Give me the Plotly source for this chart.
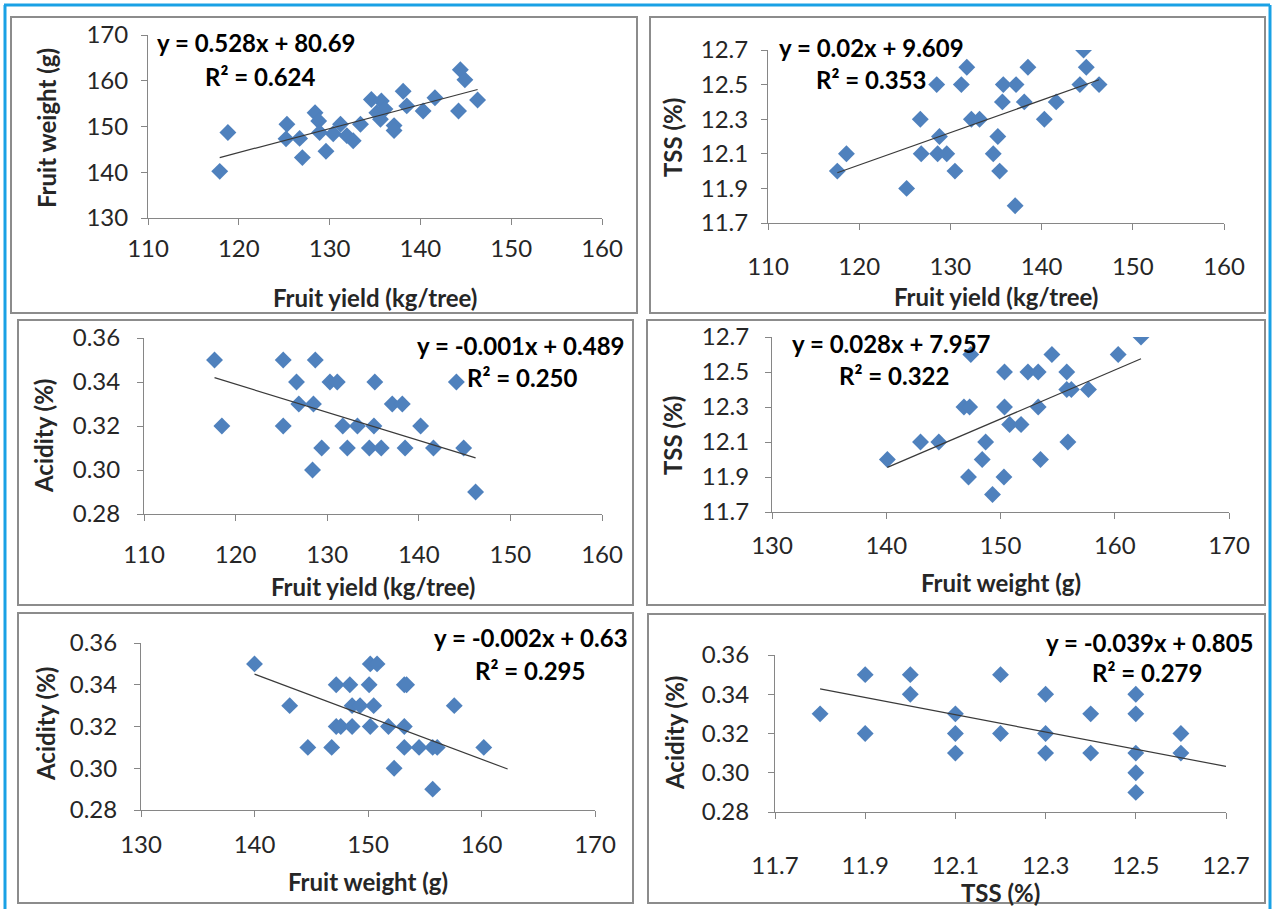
import numpy as np
import plotly.graph_objects as go

# ---------------- data ----------------
p1_yield = [117.9, 118.8, 125.3, 125.2, 126.7, 127.0, 128.4, 128.8, 128.9, 129.6,
            130.4, 131.2, 131.9, 132.6, 133.4, 134.6, 135.7, 135.2, 135.6, 136.1,
            137.1, 137.1, 138.1, 138.5, 140.3, 141.6, 144.2, 144.4, 144.9, 146.3]
p1_weight = [140.2, 148.7, 150.5, 147.3, 147.4, 143.2, 153.0, 151.2, 148.7, 144.6,
             148.4, 150.5, 148.0, 146.9, 150.5, 155.9, 155.6, 153.0, 151.6, 153.8,
             150.2, 149.1, 157.7, 154.5, 153.4, 156.3, 153.4, 162.4, 160.2, 155.8]

p2_yield = [117.6, 118.6, 125.2, 126.7, 126.8, 128.5, 128.8, 128.6, 129.6, 130.5,
            131.2, 131.8, 132.3, 133.2, 134.7, 135.2, 135.4, 135.7, 135.8, 137.2,
            137.1, 138.1, 138.5, 140.3, 141.6, 144.2, 144.6, 144.9, 146.3]
p2_tss = [12.0, 12.1, 11.9, 12.3, 12.1, 12.5, 12.2, 12.1, 12.1, 12.0,
          12.5, 12.6, 12.3, 12.3, 12.1, 12.2, 12.0, 12.4, 12.5, 12.5,
          11.8, 12.4, 12.6, 12.3, 12.4, 12.5, 12.7, 12.6, 12.5]

# the last observation of panels 3, 5 and 6 (the tree with yield 144.6,
# weight 162.3, TSS 12.7) has an acidity below the axis range, so it is not
# drawn, but it still shapes the trendline, as in the reference
p3_yield = [117.7, 118.5, 125.2, 128.7, 126.65, 130.3, 131.1, 135.2, 144.1, 126.9,
            128.5, 137.1, 138.2, 125.2, 131.7, 133.3, 135.1, 140.2, 129.4, 132.2,
            134.6, 135.9, 138.5, 141.6, 144.9, 128.4, 146.2, 144.6]
p3_acidity = [0.35, 0.32, 0.35, 0.35, 0.34, 0.34, 0.34, 0.34, 0.34, 0.33,
              0.33, 0.33, 0.33, 0.32, 0.32, 0.32, 0.32, 0.32, 0.31, 0.31,
              0.31, 0.31, 0.31, 0.31, 0.31, 0.30, 0.29, 0.27]

p4_weight = [140.1, 143.0, 144.6, 147.4, 146.8, 147.3, 148.7, 148.4, 147.2, 149.3,
             150.35, 150.35, 150.3, 150.8, 151.8, 152.4, 153.3, 153.3, 153.5, 154.5,
             155.8, 155.8, 156.2, 155.9, 157.7, 160.3, 162.3]
p4_tss = [12.0, 12.1, 12.1, 12.6, 12.3, 12.3, 12.1, 12.0, 11.9, 11.8,
          12.5, 12.3, 11.9, 12.2, 12.2, 12.5, 12.5, 12.3, 12.0, 12.6,
          12.5, 12.4, 12.4, 12.1, 12.4, 12.6, 12.7]

p5_weight = [140.0, 143.1, 144.7, 146.8, 147.2, 148.4, 150.1, 150.2, 150.8, 148.6,
             149.3, 150.5, 147.2, 147.6, 148.6, 150.2, 151.8, 153.2, 153.2, 153.4,
             153.2, 154.5, 155.7, 156.1, 152.3, 155.7, 157.6, 160.2, 162.3]
p5_acidity = [0.35, 0.33, 0.31, 0.31, 0.34, 0.34, 0.34, 0.35, 0.35, 0.33,
              0.33, 0.33, 0.32, 0.32, 0.32, 0.32, 0.32, 0.32, 0.34, 0.34,
              0.31, 0.31, 0.31, 0.31, 0.30, 0.29, 0.33, 0.31, 0.27]

p6_tss = [11.8, 11.9, 11.9, 12.0, 12.0, 12.1, 12.1, 12.1, 12.2, 12.2, 12.3,
          12.3, 12.3, 12.4, 12.4, 12.5, 12.5, 12.5, 12.5, 12.5, 12.6, 12.6, 12.7]
p6_acidity = [0.33, 0.35, 0.32, 0.35, 0.34, 0.33, 0.32, 0.31, 0.35, 0.32, 0.34,
              0.32, 0.31, 0.33, 0.31, 0.34, 0.33, 0.31, 0.30, 0.29, 0.32, 0.31, 0.27]

equations = ["y = 0.528x + 80.69", "y = 0.02x + 9.609", "y = -0.001x + 0.489",
             "y = 0.028x + 7.957", "y = -0.002x + 0.63", "y = -0.039x + 0.805"]
r_squared = ["R² = 0.624", "R² = 0.353", "R² = 0.250",
             "R² = 0.322", "R² = 0.295", "R² = 0.279"]

x_titles = ["Fruit yield (kg/tree)", "Fruit yield (kg/tree)", "Fruit yield (kg/tree)",
            "Fruit weight (g)", "Fruit weight (g)", "TSS (%)"]
y_titles = ["Fruit weight (g)", "TSS (%)", "Acidity (%)",
            "TSS (%)", "Acidity (%)", "Acidity (%)"]

yield_ticks = [110, 120, 130, 140, 150, 160]
weight_ticks = [130, 140, 150, 160, 170]
tss_ticks = [11.7, 11.9, 12.1, 12.3, 12.5, 12.7]
acid_ticks = [0.28, 0.30, 0.32, 0.34, 0.36]

series = [(p1_yield, p1_weight), (p2_yield, p2_tss), (p3_yield, p3_acidity),
          (p4_weight, p4_tss), (p5_weight, p5_acidity), (p6_tss, p6_acidity)]
x_tick_sets = [yield_ticks, yield_ticks, yield_ticks, weight_ticks, weight_ticks, tss_ticks]
y_tick_sets = [weight_ticks, tss_ticks, acid_ticks, tss_ticks, acid_ticks, acid_ticks]
x_fmt = [".0f", ".0f", ".0f", ".0f", ".0f", ".1f"]
y_fmt = [".0f", ".1f", ".2f", ".1f", ".2f", ".2f"]

# ---------------- layout geometry (pixels) ----------------
W, H = 1273, 909
plot_px = [  # x0, x1, ytop, ybottom of each plot area
    (148, 602, 35, 218),
    (768, 1224, 50, 223),
    (144, 602, 338, 514),
    (772, 1229, 337, 512),
    (141, 595, 643, 810),
    (775, 1226, 655, 812),
]
box_px = [
    (11, 637, 17, 313),
    (650, 1265, 17, 313),
    (18, 633, 320, 605),
    (647, 1265, 320, 605),
    (18, 633, 613, 903),
    (648, 1265, 614, 903),
]
xtick_standoff = [3, 16, 13, 6, 7, 26]
ytick_standoff = [8, 8, 12, 11, 12, 14]
xtitle_y = [297, 296, 586, 582, 881, 892]
ytitle_x = [47, 672, 43, 672, 45, 674]
ytitle_y = [128, 138, 436, 436, 724, 733]
eq_pos = [  # (x, y, anchor) for equation, (x, y, anchor) for R²
    ((155, 43, "left"), (203, 77, "left")),
    ((777, 47, "left"), (814, 80, "left")),
    ((626, 345, "right"), (465, 378, "left")),
    ((790, 343, "left"), (837, 375, "left")),
    ((630, 637, "right"), (473, 670, "left")),
    ((1255, 642, "right"), (1090, 672, "left")),
]

FONT = "Lato"
MARKER = "#4F81BD"
AXIS = "#868686"
TEXT = "#262626"

def px(x):
    return x / W

def py(y):
    return 1 - y / H

fig = go.Figure()
layout = dict(
    template="none", autosize=False,
    width=W, height=H, margin=dict(l=0, r=0, t=0, b=0, pad=0),
    paper_bgcolor="white", plot_bgcolor="white", showlegend=False,
    font=dict(family=FONT, color=TEXT),
)
annotations = []
shapes = []

for i, ((xs, ys), (x0, x1, yt, yb)) in enumerate(zip(series, plot_px)):
    n = i + 1
    xa = "x" if n == 1 else f"x{n}"
    ya = "y" if n == 1 else f"y{n}"
    xt = x_tick_sets[i]
    yt_ = y_tick_sets[i]
    fig.add_trace(go.Scatter(
        x=xs, y=ys, mode="markers", xaxis=xa, yaxis=ya, cliponaxis=True,
        marker=dict(symbol="diamond", size=13, color=MARKER, line=dict(width=0)),
    ))
    # linear least-squares trendline over the range of the observations
    slope, intercept = np.polyfit(xs, ys, 1)
    tx = np.array([min(xs), max(xs)])
    fig.add_trace(go.Scatter(
        x=tx, y=slope * tx + intercept, mode="lines", xaxis=xa, yaxis=ya,
        line=dict(color="#3a3a3a", width=1.2), hoverinfo="skip",
    ))
    common = dict(showgrid=False, zeroline=False, showline=True, linecolor=AXIS,
                  linewidth=1, ticks="outside", tickcolor=AXIS, ticklen=6,
                  automargin=False,
                  tickfont=dict(family=FONT, size=24, color=TEXT))
    layout["xaxis" if n == 1 else f"xaxis{n}"] = dict(
        common, domain=[px(x0), px(x1)], anchor=ya,
        range=[xt[0], xt[-1]], tickvals=xt, tickformat=x_fmt[i],
        ticklabelstandoff=xtick_standoff[i],
    )
    layout["yaxis" if n == 1 else f"yaxis{n}"] = dict(
        common, domain=[py(yb), py(yt)], anchor=xa,
        range=[yt_[0], yt_[-1]], tickvals=yt_, tickformat=y_fmt[i],
        ticklabelstandoff=ytick_standoff[i],
    )
    # axis titles
    annotations.append(dict(
        text=f"<b>{x_titles[i]}</b>", xref="paper", yref="paper",
        x=px((x0 + x1) / 2), y=py(xtitle_y[i]), xanchor="center", yanchor="middle",
        showarrow=False, font=dict(family=FONT, size=24, color=TEXT)))
    annotations.append(dict(
        text=f"<b>{y_titles[i]}</b>", xref="paper", yref="paper", textangle=-90,
        x=px(ytitle_x[i]), y=py(ytitle_y[i]), xanchor="center", yanchor="middle",
        showarrow=False, font=dict(family=FONT, size=24, color=TEXT)))
    # equation + R²
    (ex, ey, ean), (rx, ry, ran) = eq_pos[i]
    annotations.append(dict(
        text=f"<b>{equations[i]}</b>", xref="paper", yref="paper",
        x=px(ex), y=py(ey), xanchor=ean, yanchor="middle", showarrow=False,
        font=dict(family=FONT, size=24, color="black")))
    annotations.append(dict(
        text=f"<b>{r_squared[i]}</b>", xref="paper", yref="paper",
        x=px(rx), y=py(ry), xanchor=ran, yanchor="middle", showarrow=False,
        font=dict(family=FONT, size=24, color="black")))
    # panel frame
    bx0, bx1, by0, by1 = box_px[i]
    shapes.append(dict(type="rect", xref="paper", yref="paper",
                       x0=px(bx0), x1=px(bx1), y0=py(by1), y1=py(by0),
                       line=dict(color="#8c8c8c", width=2), layer="below"))

# outer blue frame
BLUE = "#1AA1E5"
for (a0, b0, a1, b1) in [(4, 5, 1270, 5), (5, 5, 5, 909), (1270, 5, 1270, 909)]:
    shapes.append(dict(type="line", xref="paper", yref="paper",
                       x0=px(a0), y0=py(b0), x1=px(a1), y1=py(b1),
                       line=dict(color=BLUE, width=3)))

layout["annotations"] = annotations
layout["shapes"] = shapes
fig.update_layout(**layout)

fig.write_html("out.html", config={"displayModeBar": False},
               post_script="document.body.style.margin='0';")
